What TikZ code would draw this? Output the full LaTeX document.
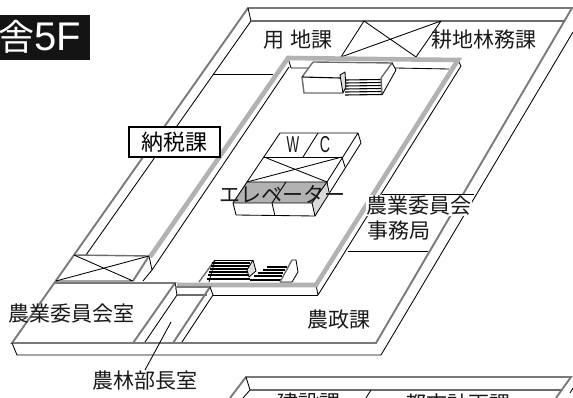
\documentclass[tikz,border=0pt]{standalone}
\usepackage{fontspec}
\setmainfont{Noto Sans CJK JP}
\newfontfamily\latinsans{Liberation Sans}
\tikzset{
  wall/.style={draw=black!52,line width=1.9pt,line join=miter},
  wallthin/.style={draw=black!58,line width=1.4pt,line join=miter},
  corridor/.style={draw=black!30,line width=4.6pt,line join=miter},
  thin/.style={draw=black,line width=0.85pt,line join=round},
  label/.style={inner sep=0pt,font=\fontsize{21}{21}\selectfont,text=black!90},
  halo/.style={label,fill=white,inner sep=0.5pt},
  wcletter/.style={inner sep=0pt,font=\latinsans\fontsize{23}{23}\selectfont,text=black!90},
}
\begin{document}
\begin{tikzpicture}[x=1pt,y=-1pt]
\useasboundingbox (0,0) rectangle (573,398);
\clip (0,0) rectangle (573,398);
% outer floor
\draw[wall] (12,343) -- (248,8) -- (572,8) -- (376,343) -- cycle;
\draw[thin] (12,343) -- (17,355) -- (381,355) -- (573,32);
\draw[thin] (248,8) -- (251,21) -- (86,255);
\draw[wallthin] (251,21) -- (565,21);
% room dividers
\draw[thin] (213,74) -- (273,74);
\draw[thin] (348,251) -- (428,251);
\draw[thin] (382,194) -- (474,194);
% upper X
\draw[thin] (341,57) -- (364,21) -- (416,57) -- (441,21) -- (341,57);
% corridor
\draw[thin] (289,67) -- (152,270) -- (149,256);
\draw[thin] (458,60) -- (461,66) -- (318,295) -- (316,285);
\draw[thin] (288,58) -- (291,68) -- (308,68);
\draw[thin] (395,68) -- (449,69);
\draw[thin] (213,295) -- (318,295);
\draw[corridor] (177,285) -- (316,285) -- (458,60) -- (288,58) -- (150,257);
% lower-left rooms
\draw[wallthin] (74,255) -- (149,256);
\draw[wall] (149,256) -- (133,281);
\draw[thin] (74,255) -- (133,281) -- (56,281) ;
\draw[thin] (149,256) -- (56,281);
\draw[wall] (55,283) -- (175,283) -- (133,343);
\draw[thin] (152,270) -- (143,281);
\draw[thin] (175,283) -- (177,295) -- (145,342);
\draw[wallthin] (177,295) -- (207,295);
\draw[wall] (175,287) -- (210,287) -- (173,343);
\draw[thin] (210,287) -- (213,295) -- (182,342);
% WC block
\fill[black!30] (247,182) -- (327,182) -- (312,203) -- (233,203) -- cycle;
\fill[black!15] (327,182) -- (329,192) -- (315,216) -- (312,203) -- cycle;
\draw[thin] (358,133) -- (280,133) -- (247,182) -- (327,182) -- (358,133) -- (361,143) -- (315,216) -- (236,215) -- (233,203) -- (247,182);
\draw[thin] (264,157) -- (342,157);
\draw[thin] (318,133) -- (303,157);
\draw[thin] (264,157) -- (327,182);
\draw[thin] (342,157) -- (247,182);
\draw[thin] (342,157) -- (345,167);
\draw[thin] (233,203) -- (312,203) -- (315,216);
\draw[thin] (286,182) -- (272,203) -- (275,216);
\draw[thin] (327,182) -- (312,203);
\draw[thin] (327,182) -- (329,192);
\node[wcletter] (wcw) at (293,145) {\scalebox{0.58}[1]{W}};
\node[wcletter] (wcc) at (325,145) {\scalebox{0.62}[1]{C}};
% upper stair
\draw[wallthin] (313,62) -- (392,63) -- (381,78);
\draw[wallthin] (313,62) -- (302,77);
\draw[thin,line width=1.1pt] (302,77) -- (340,78);
\draw[wallthin] (302,77) -- (304,93) -- (343,93);
\draw[thin,fill=black!12] (340,75) -- (345,72) -- (346,87) -- (343,93) -- cycle;
\foreach \yy in {80,83,86,89,92,95}{\draw[thin,line width=1.1pt] (345,\yy) -- (382,\yy-0.5);}
\draw[wallthin] (381,78) -- (382,95);
\draw[thin] (382,95) -- (396,70) -- (392,63);
% lower stair
\draw[wallthin] (215,260) -- (199,282);
\draw[thin] (215,260) -- (253,260);
\draw[thin] (215,260) -- (209,282);
\foreach \yy in {263,266,269,272,275,279}{\draw[thin,line width=1.1pt] (\yy/-3+300,\yy) -- (250,\yy);}
\draw[thin,fill=black!12] (253,260) -- (256,271) -- (249,277) -- (247,270) -- cycle;
\foreach \yy/\xl/\xr in {267/267/287,270/263/285,273/258/283,276/254/282,280/250/281}{\draw[thin,line width=1.1pt] (\xl,\yy) -- (\xr,\yy);}
\draw[thin] (292,260) -- (296,260) -- (298,272) -- (292,282) -- (280,282);
\draw[wallthin] (280,282) -- (292,260);
% leader
\coordinate (leadtop) at (171,322);
\coordinate (leadend) at (145,370);
% lower plan
\draw[wall] (230,398) -- (246,377) -- (571,377) -- (556,398);
\draw[wallthin] (250,390) -- (561,390);
\draw[thin] (246,377) -- (250,390) -- (243,398);
\draw[thin] (371,390) -- (366,398);
\draw[thin] (573,388) -- (570,393);
% tag
\fill[black!92] (0,15) rectangle (90,60);
\node[anchor=west,inner sep=0pt,text=white,font=\fontsize{36}{36}\selectfont] (tagk) at (-2,37) {舎};
\node[anchor=west,inner sep=0pt,text=white,font=\latinsans\fontsize{40}{40}\selectfont] (tagf) at (34,37) {5F};
% labels
\node[label] (a1) at (298,40) {用\hspace{7pt}地課};
\node[label] (a2) at (483.5,40) {耕地林務課};
\node[draw=black,line width=1.8pt,fill=white,minimum width=91pt,minimum height=30pt,inner sep=0pt,font=\fontsize{22}{22}\selectfont] (a3) at (174.5,142) {納税課};
\node[label] (a4) at (282,194) {エレベーター};
\node[halo] (a5) at (419,205.5) {農業委員会};
\node[halo] (a6) at (399,231) {事務局};
\node[label] (a7) at (339,320) {農政課};
\node[label] (a8) at (71.5,314) {農業委員会室};
\node[label] (a9) at (144.5,381) {農林部長室};
\draw[thin] (leadtop) -- (leadend);
\node[label] (a10) at (308.5,403) {建設課};
\node[label] (a11) at (458,403) {都市計画課};
\end{tikzpicture}
\end{document}
